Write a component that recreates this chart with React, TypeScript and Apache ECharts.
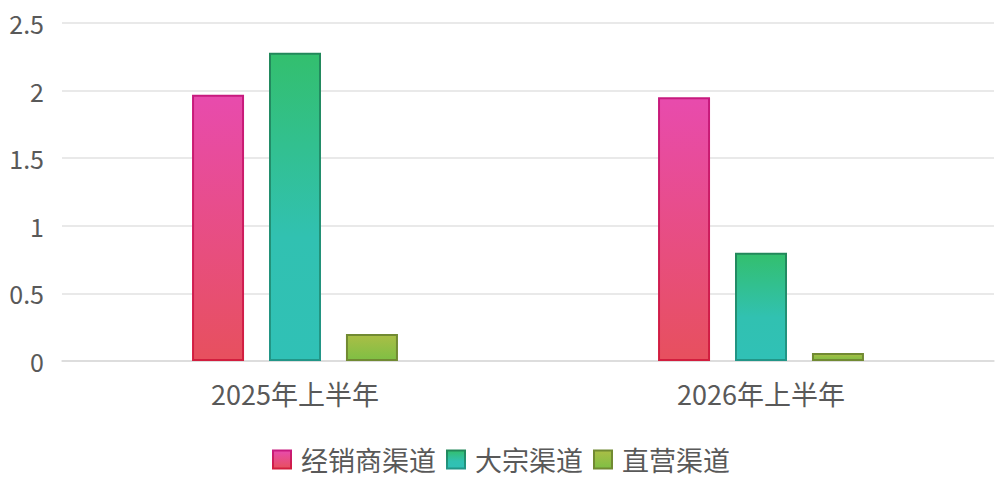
import React, { useEffect, useRef } from "react";
import * as echarts from "echarts";

const categories = ["2025年上半年", "2026年上半年"];
const seriesNames = ["经销商渠道", "大宗渠道", "直营渠道"];
const dealerValues = [1.97, 1.95];
const bulkValues = [2.28, 0.8];
const directValues = [0.2, 0.06];
const yTicks = { min: 0, max: 2.5, interval: 0.5 };

const lg = (stops: [number, string][]) =>
  new echarts.graphic.LinearGradient(
    0,
    0,
    0,
    1,
    stops.map(([offset, color]) => ({ offset, color }))
  );

const FONT = "'Noto Sans CJK SC', 'Noto Sans', sans-serif";

export default function App() {
  const ref = useRef<HTMLDivElement>(null);
  useEffect(() => {
    document.body.style.margin = "0";
    if (!ref.current) return;
    const chart = echarts.init(ref.current, undefined, { renderer: "svg" });
    const styles = [
      {
        color: lg([
          [0, "#E84BAD"],
          [1, "#E7505E"],
        ]),
        borderColor: lg([
          [0, "#C71A7E"],
          [1, "#D21E3E"],
        ]),
      },
      {
        color: lg([
          [0, "#33BF6E"],
          [0.6, "#31C1B1"],
          [1, "#30C1B6"],
        ]),
        borderColor: lg([
          [0, "#22885A"],
          [1, "#229688"],
        ]),
      },
      {
        color: lg([
          [0, "#AABE46"],
          [1, "#7FBF44"],
        ]),
        borderColor: "#718A32",
      },
    ];
    const data = [dealerValues, bulkValues, directValues];
    chart.setOption({
      animation: false,
      textStyle: { fontFamily: FONT },
      grid: { left: 62, right: 8, top: 23, bottom: 130 },
      legend: {
        bottom: 13,
        left: "center",
        itemWidth: 18,
        itemHeight: 18,
        itemGap: 10,
        icon: "rect",
        textStyle: {
          fontSize: 27,
          color: "#595959",
          fontFamily: FONT,
          padding: [0, 0, 0, 5],
        },
        data: seriesNames,
      },
      xAxis: {
        type: "category",
        data: categories,
        axisTick: { show: false },
        axisLine: { lineStyle: { color: "#d9d9d9", width: 1.5 } },
        axisLabel: {
          fontSize: 27,
          color: "#595959",
          margin: 19,
          fontFamily: FONT,
        },
      },
      yAxis: {
        type: "value",
        min: yTicks.min,
        max: yTicks.max,
        interval: yTicks.interval,
        axisLine: { show: false },
        axisTick: { show: false },
        splitLine: { lineStyle: { color: "#e2e2e2", width: 1.5 } },
        axisLabel: {
          fontSize: 25,
          color: "#595959",
          margin: 18,
          fontFamily: FONT,
        },
      },
      series: seriesNames.map((name, i) => ({
        name,
        type: "bar",
        data: data[i],
        barWidth: 52,
        barGap: "48%",
        itemStyle: { ...styles[i], borderWidth: 2 },
      })),
    });
    return () => chart.dispose();
  }, []);
  return <div ref={ref} style={{ width: 1002, height: 491 }} />;
}
